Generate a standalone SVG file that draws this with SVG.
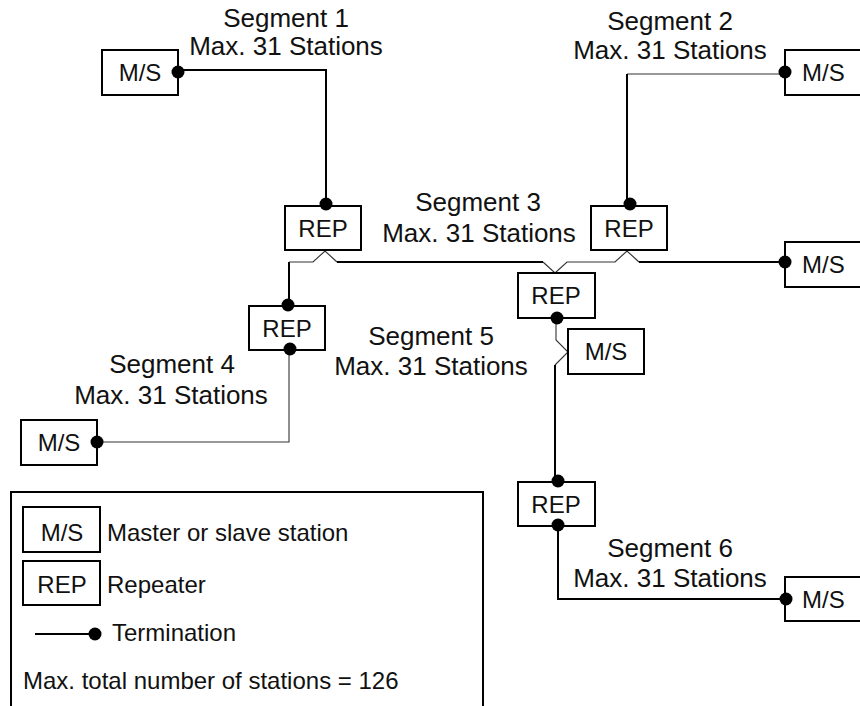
<svg xmlns="http://www.w3.org/2000/svg" width="860" height="706" viewBox="0 0 860 706">
<style>
.box{fill:#fff;stroke:#000;stroke-width:2}
.t{font-family:"Liberation Sans",Arial,sans-serif;font-size:24px;fill:#111}
.tm{text-anchor:middle}
.seg{font-family:"Liberation Sans",Arial,sans-serif;font-size:26px;fill:#111;text-anchor:middle}
.thick{fill:none;stroke:#000;stroke-width:2}
.thin{fill:none;stroke:#333;stroke-width:1.1}
.dot{fill:#000}
</style>
<rect width="860" height="706" fill="#fff"/>

<g id="connectors">
  <!-- Segment 1 -->
  <polyline class="thick" points="178,70 326,70 326,204"/>
  <!-- Segment 2 -->
  <polyline class="thin" points="785,74 627,74"/>
  <polyline class="thick" points="627,74 627,203"/>
  <!-- Segment 3 -->
  <polyline class="thick" points="289,305 289,262"/>
  <polyline class="thin" points="289,262 313,262 325,251 337,262"/>
  <polyline class="thick" points="337,262 543,262"/>
  <polyline class="thin" points="543,262 555,273 567,262 615,262 627,251 639,262"/>
  <polyline class="thick" points="639,262 785,262"/>
  <!-- Segment 4 -->
  <polyline class="thin" points="289,349 289,442 97,442"/>
  <!-- Segment 5 -->
  <polyline class="thin" points="556,318 556,340 568,352 555,365"/>
  <polyline class="thick" points="555,365 555,482"/>
  <!-- Segment 6 -->
  <polyline class="thick" points="558,525 558,599 786,599"/>
</g>

<g id="ms1"><rect class="box" x="102" y="50" width="76" height="45"/><text class="t tm" x="140" y="81">M/S</text></g>
<g id="ms2"><rect class="box" x="785" y="50" width="90" height="45"/><text class="t" x="802" y="81">M/S</text></g>
<g id="ms3"><rect class="box" x="785" y="242" width="90" height="45"/><text class="t" x="802" y="273">M/S</text></g>
<g id="ms4"><rect class="box" x="21" y="420" width="76" height="45"/><text class="t tm" x="59" y="451">M/S</text></g>
<g id="ms5"><rect class="box" x="568" y="329" width="76" height="45"/><text class="t tm" x="606" y="360">M/S</text></g>
<g id="ms6"><rect class="box" x="785" y="577" width="90" height="44"/><text class="t" x="802" y="608">M/S</text></g>

<g id="rep1"><rect class="box" x="285" y="206" width="76" height="44"/><text class="t tm" x="323" y="237">REP</text></g>
<g id="rep2"><rect class="box" x="591" y="206" width="76" height="44"/><text class="t tm" x="629" y="237">REP</text></g>
<g id="rep3"><rect class="box" x="518" y="273" width="77" height="45"/><text class="t tm" x="556" y="304">REP</text></g>
<g id="rep4"><rect class="box" x="249" y="306" width="76" height="44"/><text class="t tm" x="287" y="337">REP</text></g>
<g id="rep5"><rect class="box" x="518" y="482" width="77" height="44"/><text class="t tm" x="556" y="513">REP</text></g>

<g id="terminations">
  <circle class="dot" cx="178" cy="72" r="6.5"/>
  <circle class="dot" cx="326" cy="204" r="6.5"/>
  <circle class="dot" cx="630" cy="204" r="6.5"/>
  <circle class="dot" cx="785" cy="72" r="6.5"/>
  <circle class="dot" cx="785" cy="262" r="6.5"/>
  <circle class="dot" cx="288" cy="305" r="6.5"/>
  <circle class="dot" cx="290" cy="349" r="6.5"/>
  <circle class="dot" cx="97" cy="442" r="6.5"/>
  <circle class="dot" cx="557" cy="318" r="6.5"/>
  <circle class="dot" cx="558" cy="481" r="6.5"/>
  <circle class="dot" cx="558" cy="525" r="6.5"/>
  <circle class="dot" cx="786" cy="599" r="6.5"/>
</g>

<g id="labels">
  <text class="seg" x="286" y="27">Segment 1</text>
  <text class="seg" x="286" y="55">Max. 31 Stations</text>
  <text class="seg" x="670" y="30">Segment 2</text>
  <text class="seg" x="670" y="59">Max. 31 Stations</text>
  <text class="seg" x="478" y="211">Segment 3</text>
  <text class="seg" x="479" y="242">Max. 31 Stations</text>
  <text class="seg" x="172" y="373">Segment 4</text>
  <text class="seg" x="171" y="404">Max. 31 Stations</text>
  <text class="seg" x="431" y="345">Segment 5</text>
  <text class="seg" x="431" y="375">Max. 31 Stations</text>
  <text class="seg" x="670" y="557">Segment 6</text>
  <text class="seg" x="670" y="587">Max. 31 Stations</text>
</g>

<g id="legend">
  <rect class="box" x="11" y="492" width="472" height="230"/>
  <rect class="box" x="23" y="507" width="77" height="45"/>
  <text class="t tm" x="62" y="541">M/S</text>
  <text class="t" x="107" y="541">Master or slave station</text>
  <rect class="box" x="23" y="561" width="77" height="44"/>
  <text class="t tm" x="62" y="593">REP</text>
  <text class="t" x="107" y="593">Repeater</text>
  <line class="thick" x1="35" y1="634" x2="92" y2="634"/>
  <circle class="dot" cx="95" cy="634" r="6.5"/>
  <text class="t" x="112" y="641">Termination</text>
  <text class="t" x="23" y="689">Max. total number of stations = 126</text>
</g>
</svg>
